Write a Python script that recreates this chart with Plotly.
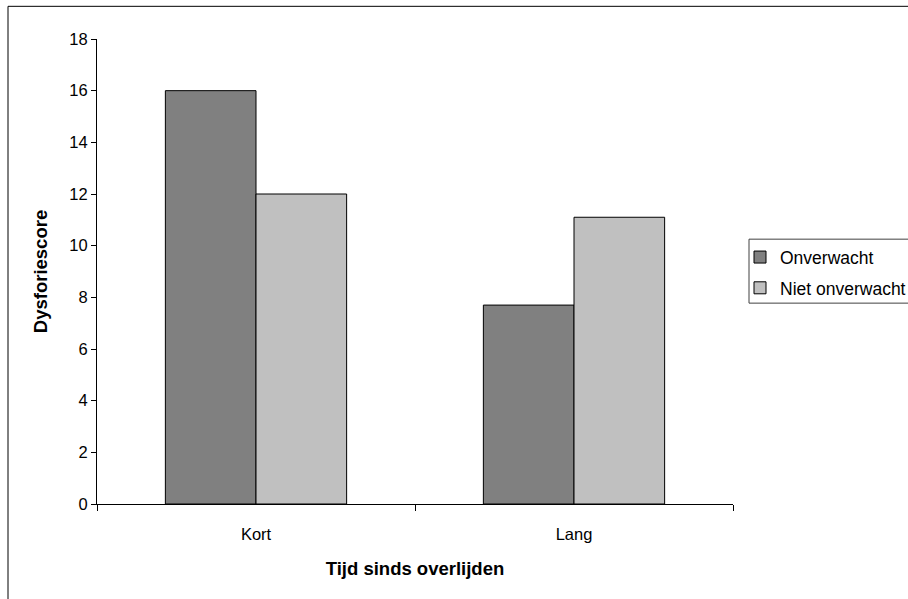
import plotly.graph_objects as go

categories = ["Kort", "Lang"]
onverwacht = [16.0, 7.7]
niet_onverwacht = [12.0, 11.1]
series_names = ["Onverwacht", "Niet onverwacht"]
y_ticks = [0, 2, 4, 6, 8, 10, 12, 14, 16, 18]

FONT = "Liberation Sans, Arial, sans-serif"

fig = go.Figure()
fig.add_trace(go.Bar(x=categories, y=onverwacht, name=series_names[0],
                     marker=dict(color="#808080", line=dict(color="#000000", width=1)),
                     legendgroup="a"))
fig.add_trace(go.Bar(x=categories, y=niet_onverwacht, name=series_names[1],
                     marker=dict(color="#C0C0C0", line=dict(color="#000000", width=1)),
                     legendgroup="b"))

fig.update_layout(
    width=908, height=599,
    margin=dict(l=97, r=175, t=39, b=95, autoexpand=False),
    paper_bgcolor="white", plot_bgcolor="white",
    barmode="group", bargap=0.43, bargroupgap=0,
    font=dict(family=FONT, size=16.5, color="#000000"),
    legend=dict(x=(740 - 97) / 636, y=0.5695, xanchor="left", yanchor="top",
                borderwidth=0, bgcolor="rgba(0,0,0,0)",
                font=dict(size=17.5), traceorder="grouped", tracegroupgap=5),
    xaxis=dict(showline=True, linecolor="#000000", linewidth=1,
               ticks="outside", tickson="boundaries", ticklen=6, tickcolor="#000000",
               showgrid=False, ticklabelstandoff=15,
               title=dict(text="<b>Tijd sinds overlijden</b>", font=dict(size=18.5), standoff=20)),
    yaxis=dict(range=[0, 18], tickvals=y_ticks, showline=True, linecolor="#000000", linewidth=1,
               ticks="outside", ticklen=5, tickcolor="#000000", showgrid=False, zeroline=False,
               title=dict(text="<b>Dysforiescore</b>", font=dict(size=18.5), standoff=16)),
    shapes=[
        dict(type="rect", xref="paper", yref="paper",
             x0=(8 - 97) / 636, x1=2, y0=-1, y1=1 + (38.7 - 6) / 465.3,
             line=dict(color="#000000", width=1), fillcolor="rgba(0,0,0,0)", layer="below"),
        dict(type="rect", xref="paper", yref="paper",
             x0=(749 - 97) / 636, x1=2, y0=1 - (303 - 38.7) / 465.3, y1=1 - (239 - 38.7) / 465.3,
             line=dict(color="#404040", width=1), fillcolor="white", layer="below"),
    ],
)

fig.write_html("out.html")
